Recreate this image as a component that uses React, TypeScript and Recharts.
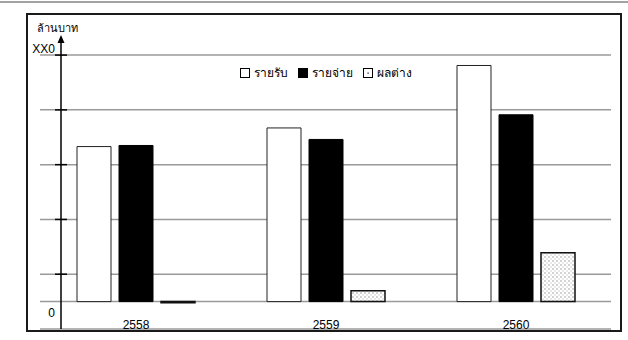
import React from 'react';
import { BarChart, Bar, XAxis, YAxis, CartesianGrid, Label } from 'recharts';

const CATEGORIES = ['2558', '2559', '2560'];
const INCOME = [283, 317, 431];
const EXPENSE = [285, 296, 341];
const DIFF = [-2, 20, 89];
const Y_TICKS = [-50, 0, 50, 150, 250, 350, 450];
const Y_TICK_LABELS: Record<number, string> = { 0: '0', 450: 'XX0' };
const SERIES_NAMES = ['รายรับ', 'รายจ่าย', 'ผลต่าง'];
const UNIT = 'ล้านบาท';

const FONT = '"Liberation Sans Narrow", "Liberation Sans", Arial, sans-serif';

const data = CATEGORIES.map((c, i) => ({
  year: c,
  income: INCOME[i],
  expense: EXPENSE[i],
  diff: DIFF[i],
}));

function YTick(props: any) {
  const { x, y, payload } = props;
  const v = payload.value as number;
  const label = Y_TICK_LABELS[v];
  return (
    <g>
      {v > 0 && <line x1={x - 6} x2={x + 6} y1={y} y2={y} stroke="#000" strokeWidth={1.5} />}
      {label && (
        <text x={x - 6} y={v === 0 ? y + 15 : y - 2} textAnchor="end" fontSize={12} fill="#000" fontFamily={FONT}>
          {label}
        </text>
      )}
    </g>
  );
}

function XTick(props: any) {
  const { x, y, payload } = props;
  return (
    <text x={x} y={y} textAnchor="middle" fontSize={12} fill="#000" fontFamily={FONT}>
      {payload.value}
    </text>
  );
}

function ArrowLabel(props: any) {
  const vb = props.viewBox || {};
  const ax = (vb.x || 0) + (vb.width || 0);
  const top = vb.y || 0;
  return (
    <g>
      <polygon points={`${ax},${top - 2} ${ax - 3.5},${top + 6} ${ax + 3.5},${top + 6}`} fill="#000" />
      <text x={ax - 4} y={top - 5} textAnchor="middle" fontSize={11} fill="#000" fontFamily={FONT}>
        {UNIT}
      </text>
    </g>
  );
}

function Swatch({ kind }: { kind: number }) {
  return (
    <svg width={10} height={10} style={{ marginRight: 4, display: 'block' }}>
      <rect x={0.5} y={0.5} width={9} height={9} fill={kind === 1 ? '#000' : '#fff'} stroke="#000" strokeWidth={1} />
      {kind === 2 && <rect x={4.5} y={4.5} width={1.2} height={1.2} fill="#000" />}
    </svg>
  );
}

export default function App() {
  return (
    <div style={{ position: 'absolute', left: 0, top: 0, width: 628, height: 340, background: '#fff', overflow: 'hidden' }}>
      <div style={{ position: 'absolute', left: 0, top: 1, width: 628, height: 2, background: '#a3a3a3' }} />
      <div
        style={{
          position: 'absolute',
          left: 26,
          top: 13,
          width: 596,
          height: 319,
          border: '2px solid #1a1a1a',
          boxSizing: 'border-box',
        }}
      />
      <div style={{ position: 'absolute', left: 0, top: 0 }}>
        <BarChart
          width={628}
          height={340}
          data={data}
          margin={{ top: 37, right: 17, bottom: 0, left: 21 }}
          barSize={34}
          barGap={8}
        >
          <defs>
            <pattern id="dots" width="4" height="4" patternUnits="userSpaceOnUse">
              <rect width="4" height="4" fill="#fff" />
              <rect x="0.5" y="0.5" width="1" height="1" fill="#555" />
              <rect x="2.5" y="2.5" width="1" height="1" fill="#aaa" />
            </pattern>
          </defs>
          <CartesianGrid vertical={false} stroke="#9a9a9a" strokeWidth={1.5} x={40} width={571} syncWithTicks />
          <XAxis
            dataKey="year"
            axisLine={false}
            tickLine={false}
            tickSize={0}
            tickMargin={0}
            height={11}
            padding={{ left: -20, right: 0 }}
            tick={<XTick />}
            interval={0}
          />
          <YAxis
            type="number"
            domain={[-50, 483]}
            ticks={Y_TICKS}
            interval={0}
            width={40}
            tickSize={0}
            tickMargin={0}
            tickLine={false}
            axisLine={{ stroke: '#000', strokeWidth: 1.5 }}
            tick={<YTick />}
            allowDataOverflow
          >
            <Label content={<ArrowLabel />} />
          </YAxis>
          <Bar dataKey="income" name={SERIES_NAMES[0]} fill="#fff" stroke="#222" strokeWidth={1} isAnimationActive={false} />
          <Bar dataKey="expense" name={SERIES_NAMES[1]} fill="#000" stroke="#000" strokeWidth={1} isAnimationActive={false} />
          <Bar dataKey="diff" name={SERIES_NAMES[2]} fill="url(#dots)" stroke="#111" strokeWidth={1.5} isAnimationActive={false} />
        </BarChart>
      </div>
      <div
        style={{
          position: 'absolute',
          left: 240,
          top: 66,
          display: 'flex',
          alignItems: 'center',
          fontSize: 12,
          fontFamily: FONT,
          color: '#000',
          lineHeight: '14px',
        }}
      >
        {SERIES_NAMES.map((n, i) => (
          <div key={n} style={{ display: 'flex', alignItems: 'center', marginRight: 10 }}>
            <Swatch kind={i} />
            <span>{n}</span>
          </div>
        ))}
      </div>
    </div>
  );
}
